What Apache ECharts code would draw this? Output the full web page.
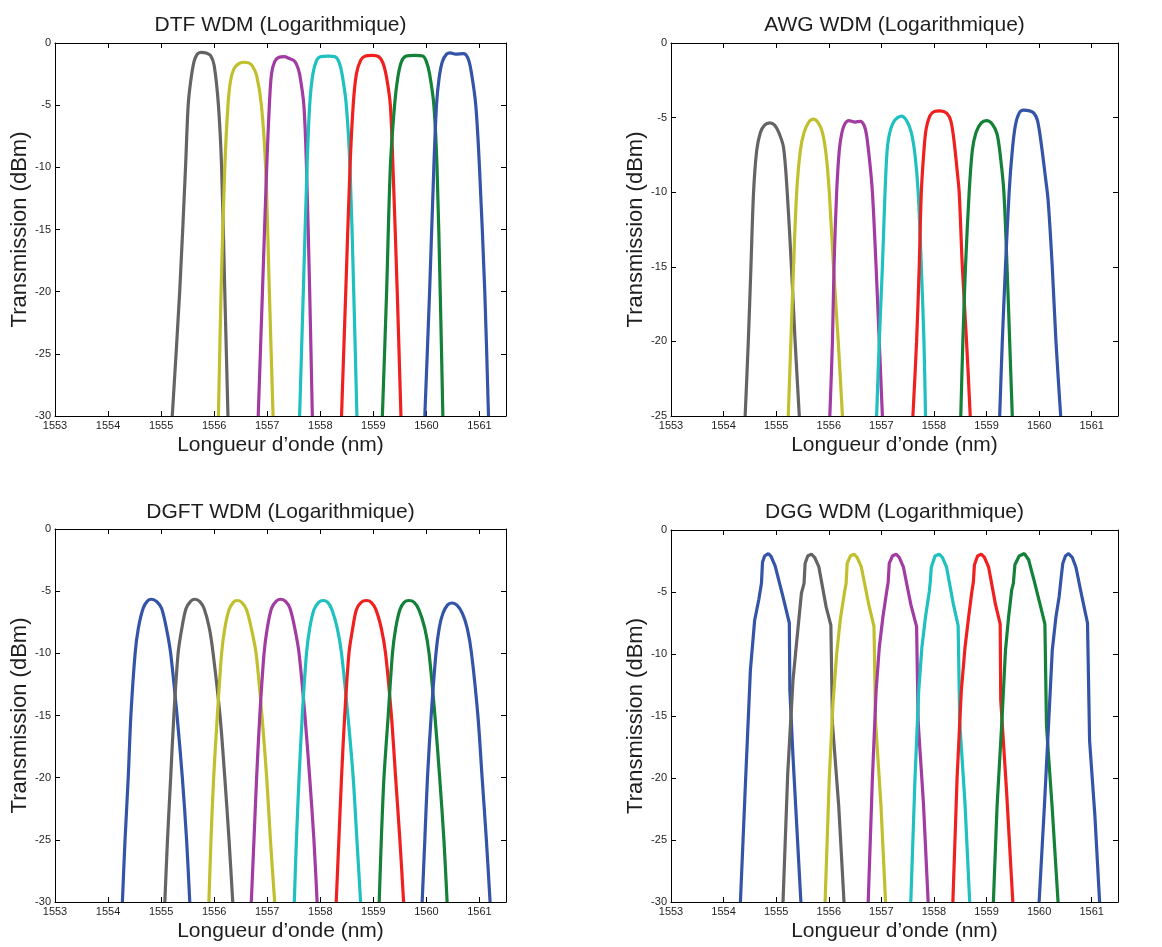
<!DOCTYPE html>
<html><head><meta charset="utf-8">
<script src="https://cdn.jsdelivr.net/npm/echarts@6/dist/echarts.min.js"></script>
<style>html,body{margin:0;padding:0;background:#fff}#c{width:1162px;height:947px}</style>
</head><body><div id="c"></div>
<script>
// ---------- DATA ----------
const panelTitles = ['DTF WDM (Logarithmique)', 'AWG WDM (Logarithmique)', 'DGFT WDM (Logarithmique)', 'DGG WDM (Logarithmique)'];
const xName = 'Longueur d\u2019onde (nm)';
const yName = 'Transmission (dBm)';
const xRange = [1553, 1561.5];
const yMins = [-30, -25, -30, -30];

// DTF WDM  [wavelength nm, dBm]
const dtfGray   = [[1555.21,-30],[1555.35,-20],[1555.46,-10],[1555.51,-5],[1555.56,-3],[1555.62,-1.5],[1555.68,-0.9],[1555.75,-0.75],[1555.85,-0.8],[1555.93,-1.0],[1556.0,-1.8],[1556.08,-5],[1556.14,-10],[1556.2,-20],[1556.26,-30]];
const dtfYellow = [[1556.08,-30],[1556.13,-20],[1556.2,-10],[1556.26,-5],[1556.31,-3],[1556.37,-2.1],[1556.45,-1.7],[1556.55,-1.55],[1556.65,-1.6],[1556.72,-1.85],[1556.8,-2.6],[1556.89,-5],[1556.97,-10],[1557.04,-20],[1557.11,-30]];
const dtfPurple = [[1556.83,-30],[1556.91,-20],[1556.99,-10],[1557.04,-5],[1557.08,-2.5],[1557.14,-1.5],[1557.22,-1.15],[1557.32,-1.1],[1557.42,-1.25],[1557.5,-1.4],[1557.56,-1.8],[1557.61,-2.5],[1557.69,-5],[1557.74,-10],[1557.8,-20],[1557.85,-30]];
const dtfCyan   = [[1557.61,-30],[1557.68,-20],[1557.75,-10],[1557.8,-5],[1557.86,-2.5],[1557.93,-1.4],[1558.0,-1.1],[1558.15,-1.05],[1558.28,-1.1],[1558.35,-1.5],[1558.41,-2.5],[1558.49,-5],[1558.56,-10],[1558.63,-20],[1558.69,-30]];
const dtfRed    = [[1558.4,-30],[1558.48,-20],[1558.56,-10],[1558.62,-5],[1558.68,-2.5],[1558.76,-1.4],[1558.85,-1.05],[1558.98,-1.0],[1559.1,-1.1],[1559.18,-1.6],[1559.25,-2.8],[1559.32,-5],[1559.37,-10],[1559.45,-20],[1559.52,-30]];
const dtfGreen  = [[1559.17,-30],[1559.25,-20],[1559.32,-10],[1559.4,-5],[1559.46,-2.8],[1559.53,-1.5],[1559.62,-1.05],[1559.78,-1.0],[1559.93,-1.05],[1560.0,-1.5],[1560.06,-2.5],[1560.14,-5],[1560.2,-10],[1560.26,-20],[1560.31,-30]];
const dtfBlue   = [[1559.97,-30],[1560.06,-20],[1560.14,-10],[1560.19,-5],[1560.24,-2.8],[1560.3,-1.5],[1560.38,-0.9],[1560.45,-0.8],[1560.55,-0.9],[1560.7,-0.85],[1560.78,-1.2],[1560.84,-2.2],[1560.93,-5],[1561.0,-10],[1561.1,-20],[1561.17,-30]];

// AWG WDM
const awgGray   = [[1554.41,-25],[1554.47,-20],[1554.52,-15],[1554.57,-10],[1554.63,-7.2],[1554.7,-6.0],[1554.78,-5.5],[1554.88,-5.35],[1554.97,-5.5],[1555.05,-6.0],[1555.14,-7.0],[1555.21,-10],[1555.29,-15],[1555.36,-20],[1555.44,-25]];
const awgYellow = [[1555.23,-25],[1555.28,-20],[1555.33,-15],[1555.39,-10],[1555.46,-7.2],[1555.53,-6.0],[1555.62,-5.3],[1555.71,-5.1],[1555.8,-5.35],[1555.88,-6.0],[1555.95,-7.5],[1556.01,-10],[1556.09,-15],[1556.18,-20],[1556.26,-25]];
const awgPurple = [[1556.02,-25],[1556.07,-20],[1556.1,-15],[1556.15,-10],[1556.2,-7.2],[1556.25,-6.0],[1556.31,-5.4],[1556.38,-5.2],[1556.5,-5.3],[1556.6,-5.25],[1556.67,-5.5],[1556.72,-6.2],[1556.78,-8],[1556.83,-10],[1556.9,-15],[1556.96,-20],[1557.02,-25]];
const awgCyan   = [[1556.91,-25],[1556.96,-20],[1557.02,-15],[1557.07,-10],[1557.11,-7.2],[1557.16,-6.0],[1557.25,-5.2],[1557.38,-4.9],[1557.48,-5.2],[1557.57,-6.0],[1557.64,-7.5],[1557.7,-10],[1557.76,-15],[1557.81,-20],[1557.84,-25]];
const awgRed    = [[1557.6,-25],[1557.67,-20],[1557.72,-15],[1557.76,-10],[1557.81,-7.2],[1557.85,-5.8],[1557.92,-4.9],[1558.0,-4.6],[1558.12,-4.55],[1558.24,-4.7],[1558.32,-5.2],[1558.38,-6.5],[1558.44,-8.5],[1558.48,-10],[1558.54,-15],[1558.62,-20],[1558.69,-25]];
const awgGreen  = [[1558.51,-25],[1558.55,-20],[1558.6,-15],[1558.67,-10],[1558.73,-7.2],[1558.8,-6.0],[1558.9,-5.35],[1559.0,-5.2],[1559.1,-5.4],[1559.2,-6.1],[1559.27,-7.8],[1559.33,-10],[1559.39,-15],[1559.44,-20],[1559.49,-25]];
const awgBlue   = [[1559.25,-25],[1559.3,-20],[1559.36,-15],[1559.43,-10],[1559.49,-7.2],[1559.55,-5.5],[1559.62,-4.7],[1559.7,-4.5],[1559.82,-4.55],[1559.9,-4.7],[1559.97,-5.2],[1560.05,-7],[1560.12,-9],[1560.17,-10.5],[1560.25,-15],[1560.32,-20],[1560.41,-25]];

// DGFT WDM
const dgftBlue1  = [[1554.27,-30],[1554.32,-25],[1554.38,-20],[1554.43,-15],[1554.51,-10],[1554.57,-8],[1554.66,-6.4],[1554.74,-5.8],[1554.82,-5.65],[1554.92,-5.85],[1555.01,-6.4],[1555.1,-8],[1555.18,-10],[1555.3,-15],[1555.4,-20],[1555.48,-25],[1555.54,-30]];
const dgftGray   = [[1555.07,-30],[1555.12,-25],[1555.18,-20],[1555.24,-15],[1555.32,-10],[1555.39,-8],[1555.47,-6.4],[1555.56,-5.8],[1555.64,-5.65],[1555.73,-5.85],[1555.81,-6.4],[1555.91,-8],[1555.98,-10],[1556.11,-15],[1556.2,-20],[1556.28,-25],[1556.35,-30]];
const dgftYellow = [[1555.9,-30],[1555.94,-25],[1555.99,-20],[1556.06,-15],[1556.14,-10],[1556.2,-8],[1556.28,-6.5],[1556.36,-5.9],[1556.43,-5.75],[1556.52,-5.9],[1556.61,-6.5],[1556.7,-8],[1556.79,-10],[1556.9,-15],[1556.99,-20],[1557.06,-25],[1557.14,-30]];
const dgftPurple = [[1556.7,-30],[1556.75,-25],[1556.8,-20],[1556.86,-15],[1556.94,-10],[1557.0,-8],[1557.08,-6.4],[1557.17,-5.8],[1557.26,-5.65],[1557.35,-5.85],[1557.43,-6.4],[1557.52,-8],[1557.6,-10],[1557.71,-15],[1557.8,-20],[1557.88,-25],[1557.94,-30]];
const dgftCyan   = [[1557.51,-30],[1557.55,-25],[1557.6,-20],[1557.66,-15],[1557.74,-10],[1557.8,-8],[1557.88,-6.5],[1557.97,-5.9],[1558.05,-5.75],[1558.14,-5.9],[1558.22,-6.5],[1558.32,-8],[1558.4,-10],[1558.52,-15],[1558.62,-20],[1558.69,-25],[1558.76,-30]];
const dgftRed    = [[1558.3,-30],[1558.35,-25],[1558.4,-20],[1558.46,-15],[1558.54,-10],[1558.61,-8],[1558.68,-6.5],[1558.77,-5.9],[1558.87,-5.75],[1558.96,-5.9],[1559.05,-6.5],[1559.15,-8],[1559.23,-10],[1559.34,-15],[1559.42,-20],[1559.5,-25],[1559.57,-30]];
const dgftGreen  = [[1559.11,-30],[1559.15,-25],[1559.2,-20],[1559.28,-15],[1559.36,-10],[1559.42,-8],[1559.5,-6.5],[1559.58,-5.9],[1559.67,-5.75],[1559.77,-5.9],[1559.86,-6.5],[1559.97,-8],[1560.05,-10],[1560.16,-15],[1560.25,-20],[1560.33,-25],[1560.39,-30]];
const dgftBlue2  = [[1559.92,-30],[1559.97,-25],[1560.02,-20],[1560.09,-15],[1560.18,-10],[1560.24,-8],[1560.31,-6.8],[1560.4,-6.1],[1560.49,-5.95],[1560.58,-6.15],[1560.68,-6.8],[1560.77,-8],[1560.85,-10],[1560.97,-15],[1561.05,-20],[1561.13,-25],[1561.2,-30]];

// DGG WDM
const dggBlue1  = [[1554.32,-30],[1554.42,-20],[1554.51,-11.3],[1554.59,-7.3],[1554.67,-5.6],[1554.72,-4.3],[1554.74,-2.6],[1554.78,-2.1],[1554.85,-1.9],[1554.9,-2.1],[1554.98,-2.9],[1555.13,-5.4],[1555.25,-7.5],[1555.26,-12.9],[1555.32,-18.3],[1555.47,-30]];
const dggGray   = [[1555.13,-30],[1555.22,-19.6],[1555.32,-12.1],[1555.39,-9],[1555.48,-5.1],[1555.53,-4.3],[1555.55,-2.7],[1555.6,-2.1],[1555.67,-1.95],[1555.73,-2.2],[1555.81,-2.95],[1555.95,-6.2],[1556.04,-7.7],[1556.07,-15.6],[1556.19,-22.3],[1556.29,-30]];
const dggYellow = [[1555.93,-30],[1556.01,-20],[1556.08,-14],[1556.15,-10],[1556.22,-7.2],[1556.3,-5.0],[1556.33,-4.3],[1556.35,-2.7],[1556.41,-2.1],[1556.48,-1.95],[1556.54,-2.2],[1556.62,-3.0],[1556.76,-6.0],[1556.86,-7.8],[1556.89,-15.5],[1556.99,-22],[1557.08,-30]];
const dggPurple = [[1556.75,-30],[1556.83,-20],[1556.9,-13],[1556.96,-9.5],[1557.03,-7],[1557.1,-5.0],[1557.13,-4.2],[1557.15,-2.7],[1557.21,-2.1],[1557.28,-1.95],[1557.34,-2.2],[1557.42,-3.0],[1557.56,-6.0],[1557.67,-7.8],[1557.7,-15.5],[1557.8,-22],[1557.89,-30]];
const dggCyan   = [[1557.56,-30],[1557.64,-20],[1557.71,-13],[1557.77,-9.5],[1557.84,-7],[1557.91,-5.0],[1557.93,-4.2],[1557.95,-3.0],[1558.02,-2.1],[1558.1,-1.95],[1558.16,-2.2],[1558.24,-3.0],[1558.37,-6.0],[1558.46,-7.7],[1558.49,-15.5],[1558.59,-22],[1558.68,-30]];
const dggRed    = [[1558.36,-30],[1558.44,-20],[1558.52,-13],[1558.59,-9.5],[1558.66,-7],[1558.72,-5.0],[1558.75,-4.2],[1558.77,-2.8],[1558.83,-2.1],[1558.9,-1.95],[1558.96,-2.2],[1559.04,-3.0],[1559.17,-6.0],[1559.26,-7.6],[1559.27,-13.7],[1559.38,-21],[1559.5,-30]];
const dggGreen  = [[1559.13,-30],[1559.2,-22.3],[1559.3,-14.8],[1559.36,-9.7],[1559.42,-7],[1559.48,-4.8],[1559.51,-4.3],[1559.54,-2.8],[1559.62,-2.1],[1559.72,-1.9],[1559.8,-2.4],[1559.9,-4.0],[1560.03,-6.2],[1560.11,-7.6],[1560.14,-15.8],[1560.25,-22.5],[1560.36,-30]];
const dggBlue2  = [[1560.0,-30],[1560.1,-22.3],[1560.19,-14.8],[1560.25,-9.7],[1560.32,-7],[1560.38,-5.4],[1560.42,-3.8],[1560.45,-2.7],[1560.5,-2.1],[1560.56,-1.9],[1560.63,-2.2],[1560.7,-3.0],[1560.82,-5.5],[1560.92,-7.5],[1560.96,-17],[1561.06,-23],[1561.15,-30]];

// ---------- STYLE / LAYOUT ----------
const C = {gray:'#646464', yellow:'#c0c02e', purple:'#a23ca2', cyan:'#1fc0c0', red:'#f0201f', green:'#138238', blue:'#3454a8'};
const panelSeries = [
  [[dtfGray,C.gray],[dtfYellow,C.yellow],[dtfPurple,C.purple],[dtfCyan,C.cyan],[dtfRed,C.red],[dtfGreen,C.green],[dtfBlue,C.blue]],
  [[awgGray,C.gray],[awgYellow,C.yellow],[awgPurple,C.purple],[awgCyan,C.cyan],[awgRed,C.red],[awgGreen,C.green],[awgBlue,C.blue]],
  [[dgftBlue1,C.blue],[dgftGray,C.gray],[dgftYellow,C.yellow],[dgftPurple,C.purple],[dgftCyan,C.cyan],[dgftRed,C.red],[dgftGreen,C.green],[dgftBlue2,C.blue]],
  [[dggBlue1,C.blue],[dggGray,C.gray],[dggYellow,C.yellow],[dggPurple,C.purple],[dggCyan,C.cyan],[dggRed,C.red],[dggGreen,C.green],[dggBlue2,C.blue]]
];
const smoothing = [0.3, 0.3, 0.3, 0];
const grids = [
  {left:55, top:43, width:451, height:373},
  {left:671, top:43, width:447, height:373},
  {left:55, top:529, width:451, height:373},
  {left:671, top:530, width:447, height:372}
];
const yNameGaps = [21, 24, 21, 24];
const titleTops = [15, 15, 502, 502];
const FONT = '"Liberation Sans", Arial, Helvetica, sans-serif';
const TXT = '#1e1e1e';

const option = {animation:false, backgroundColor:'#fff', title:[], grid:[], xAxis:[], yAxis:[], series:[]};
grids.forEach((g, i) => {
  option.grid.push(Object.assign({containLabel:false}, g));
  option.title.push({text: panelTitles[i], left: g.left + g.width/2, top: titleTops[i], textAlign:'center', padding:0,
    textStyle:{fontFamily:FONT, fontSize:21, fontWeight:'normal', color:TXT}});
  const axisBase = {type:'value', gridIndex:i, splitLine:{show:false},
    axisLine:{show:true, onZero:false, lineStyle:{color:'#000', width:1}},
    axisTick:{show:true, inside:true, length:5, lineStyle:{color:'#000', width:1}}};
  option.xAxis.push(Object.assign({}, axisBase, {position:'bottom', min:xRange[0], max:xRange[1], interval:1,
    name:xName, nameLocation:'middle', nameGap:19,
    nameTextStyle:{fontFamily:FONT, fontSize:21, color:TXT},
    axisLabel:{margin:4, fontFamily:FONT, fontSize:11, color:TXT, showMaxLabel:false,
      formatter: v => Number.isInteger(v) ? String(v) : ''}}));
  option.xAxis.push(Object.assign({}, axisBase, {position:'top', min:xRange[0], max:xRange[1], interval:1, axisLabel:{show:false}}));
  option.yAxis.push(Object.assign({}, axisBase, {position:'left', min:yMins[i], max:0, interval:5,
    name:yName, nameLocation:'middle', nameGap:yNameGaps[i],
    nameTextStyle:{fontFamily:FONT, fontSize:22, color:TXT},
    axisLabel:{margin:4, fontFamily:FONT, fontSize:11, color:TXT}}));
  option.yAxis.push(Object.assign({}, axisBase, {position:'right', min:yMins[i], max:0, interval:5, axisLabel:{show:false}}));
  panelSeries[i].forEach(([data, col]) => {
    option.series.push({type:'line', xAxisIndex:2*i, yAxisIndex:2*i, data:data, showSymbol:false, symbol:'none',
      smooth:smoothing[i], clip:true,
      lineStyle:{color:col, width:3.2}, itemStyle:{color:col}, emphasis:{disabled:true}});
  });
});

const chart = echarts.init(document.getElementById('c'), null, {renderer:'canvas'});
chart.setOption(option);
</script>
</body></html>
